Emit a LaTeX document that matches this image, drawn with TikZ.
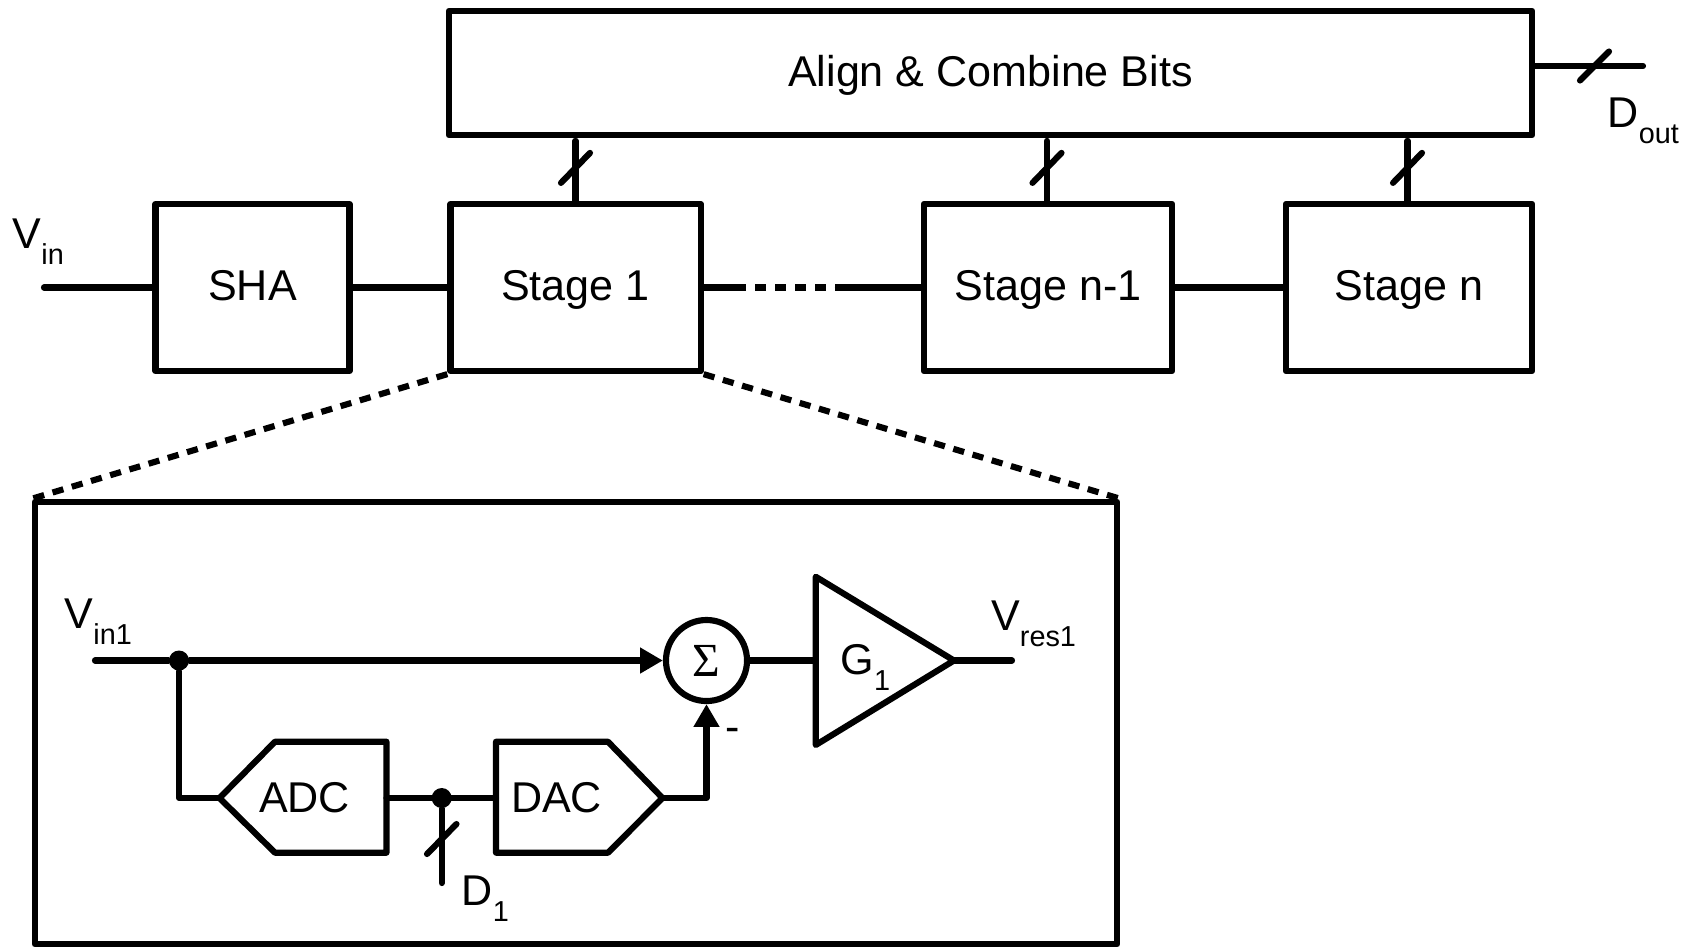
\documentclass[tikz,border=0pt]{standalone}
\usepackage{fontspec}
\setmainfont{Liberation Sans}
\newfontfamily\sigmafont{Liberation Serif}
\usetikzlibrary{arrows.meta}
\newcommand{\lblsub}[2]{#1\raisebox{-4.6pt}{\fontsize{8.2}{9.6}\selectfont #2}}
\tikzset{
    every node/.style={font=\fontsize{12.25}{14.4}\selectfont},
    blockbox/.style={draw,line width=1.75pt,line join=round,inner sep=0pt,text height=9.3pt,text depth=1.7pt},
    wire/.style={line width=1.75pt,line cap=round,line join=round},
    dashwire/.style={line width=1.75pt,dash pattern=on 3.2pt off 2.5pt},
    tipwire/.style={wire,-{Triangle[length=6.5pt,width=7pt]}},
    joint/.style={circle,fill=black,inner sep=0pt,minimum size=0.2cm},
    lbl/.style={anchor=base west,inner sep=0pt}
}
\begin{document}
\begin{tikzpicture}[x=0.01cm,y=-0.01cm]
    \useasboundingbox (0,0) rectangle (1696,947);
    \node[blockbox,minimum width=10.83cm,minimum height=1.24cm] (align) at (990.5,73) {Align \& Combine Bits};
    \node[blockbox,minimum width=1.94cm,minimum height=1.67cm] (sha) at (252.5,287.5) {SHA};
    \node[blockbox,minimum width=2.5cm,minimum height=1.67cm] (stone) at (575.5,287.5) {Stage 1};
    \node[blockbox,minimum width=2.48cm,minimum height=1.67cm] (stprev) at (1048,287.5) {Stage n-1};
    \node[blockbox,minimum width=2.46cm,minimum height=1.67cm] (stlast) at (1409,287.5) {Stage n};
    \node[blockbox,minimum width=10.82cm,minimum height=4.42cm] (inset) at (576,723) {};
    \coordinate (vinstart) at (44,287.5);
    \coordinate (dashfrom) at (735,287.5);
    \coordinate (dashto) at (838,287.5);
    \coordinate (doutend) at (1643,66);
    \draw[wire] (vinstart) -- (sha.west);
    \draw[wire] (sha.east) -- (stone.west);
    \draw[wire] (stone.east) -- (dashfrom);
    \draw[dashwire] (dashfrom) -- (dashto);
    \draw[wire] (dashto) -- (stprev.west);
    \draw[wire] (stprev.east) -- (stlast.west);
    \draw[wire] (align.east |- doutend) -- (doutend);
    \foreach \s/\d in {stone/0,stprev/-1,stlast/-1.5} {
        \draw[wire] (\s.north) ++(\d,0) -- +(0,-60);
        \draw[wire] (\s.north) ++(\d,0) ++(-14.5,-18) -- ++(29,-30);
    }
    \draw[wire] (doutend) ++(-63,14.5) -- ++(29,-29);
    \draw[dashwire] (stone.south west) -- (inset.north west);
    \draw[dashwire] (stone.south east) -- (inset.north east);
    \node[lbl] (lblvin) at (12,248) {\lblsub{V}{in}};
    \node[lbl] (lbldout) at (1607,127.5) {\lblsub{D}{out}};
    \node[joint] (dotin) at (179,660.5) {};
    \node[draw,circle,line width=1.75pt,inner sep=0pt,minimum size=0.81cm,font=\fontsize{13.5}{14}\selectfont] (sum) at (706.5,660.5) {\sigmafont Σ};
    \coordinate (vinonestart) at (95,660.5);
    \coordinate (adcin) at (219.5,798);
    \coordinate (adcout) at (386.5,798);
    \coordinate (dacin) at (496,798);
    \coordinate (dacout) at (662.5,798);
    \coordinate (ampin) at (815.7,660.5);
    \coordinate (ampout) at (954,660.5);
    \coordinate (vresend) at (1012,660.5);
    \coordinate (donestub) at (441.7,883);
    \node[joint] (dotd) at (441.7,798) {};
    \draw[wire] (adcin) -- (275,741.7) -- (386.5,741.7) -- (386.5,852.7) -- (275,852.7) -- cycle;
    \draw[wire] (496,741.7) -- (608,741.7) -- (dacout) -- (608,852.7) -- (496,852.7) -- cycle;
    \draw[wire] (815.7,576.7) -- (ampout) -- (815.7,745) -- cycle;
    \node[inner sep=0pt,anchor=base] (adctxt) at (304.5,812) {ADC};
    \node[inner sep=0pt,anchor=base] (dactxt) at (556.5,812) {DAC};
    \node[lbl] (lblgain) at (840,674) {\lblsub{G}{1}};
    \draw[wire] (vinonestart) -- (dotin);
    \draw[tipwire] (dotin) -- (sum.west);
    \draw[wire] (dotin) |- (adcin);
    \draw[wire] (adcout) -- (dacin);
    \draw[wire] (dotd) -- (donestub);
    \draw[wire] (427,854) -- (456.5,824);
    \draw[tipwire] (dacout) -| (sum.south);
    \draw[wire] (sum.east) -- (ampin);
    \draw[wire] (ampout) -- (vresend);
    \node[lbl] (lblvinone) at (64,628) {\lblsub{V}{in1}};
    \node[lbl] (lblvres) at (990.5,630) {\lblsub{V}{res1}};
    \node[lbl] (lbldone) at (461,905) {\lblsub{D}{1}};
    \node[lbl] (lblminus) at (725,741) {-};
\end{tikzpicture}
\end{document}
